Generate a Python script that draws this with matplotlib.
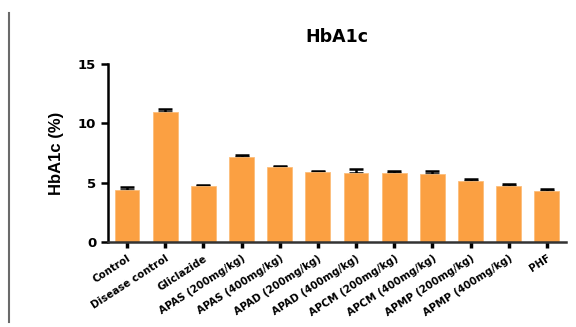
import matplotlib
matplotlib.use("Agg")
import matplotlib.pyplot as plt
from matplotlib.lines import Line2D

groups = ["Control", "Disease control", "Gliclazide", "APAS (200mg/kg)",
          "APAS (400mg/kg)", "APAD (200mg/kg)", "APAD (400mg/kg)",
          "APCM (200mg/kg)", "APCM (400mg/kg)", "APMP (200mg/kg)",
          "APMP (400mg/kg)", "PHF"]
hba1c = [4.38, 10.95, 4.70, 7.20, 6.30, 5.90, 5.85, 5.80, 5.70, 5.17, 4.72, 4.30]
sem = [0.28, 0.25, 0.12, 0.15, 0.12, 0.10, 0.28, 0.15, 0.25, 0.18, 0.20, 0.15]

plt.rcParams["font.family"] = ["DejaVu Sans"]
plt.rcParams["font.weight"] = "bold"

fig = plt.figure(figsize=(5.76, 3.27), dpi=100)
ax = fig.add_axes([0.1875, 0.26, 0.795, 0.544])

x = range(len(groups))
# only the upper half of each error bar shows above the bar
ax.errorbar(x, hba1c, yerr=[[0] * len(sem), sem], fmt="none", ecolor="black",
            elinewidth=1.8, capsize=5, capthick=1.8, zorder=1)
ax.bar(x, hba1c, width=0.65, color="#FBA042", edgecolor="#FDBE7A", linewidth=0.6,
       zorder=2)

ax.set_xlim(-0.5, len(groups) - 0.5)
ax.set_ylim(0, 15)
ax.set_yticks([0, 5, 10, 15])
ax.set_xticks(list(x))
ax.set_xticklabels(groups, rotation=33, ha="right", rotation_mode="anchor",
                   fontsize=7.4, fontweight="bold")
ax.tick_params(axis="y", labelsize=9.5, width=1.8, length=5)
ax.tick_params(axis="x", width=2.5, length=4, pad=4)
for t in ax.get_yticklabels():
    t.set_fontweight("bold")

for side in ["top", "right"]:
    ax.spines[side].set_visible(False)
ax.spines["left"].set_linewidth(1.8)
ax.spines["bottom"].set_linewidth(1.8)
ax.spines["bottom"].set_color("#333333")

ax.set_ylabel("HbA1c (%)", fontsize=12, fontweight="bold", labelpad=10,
              family=["Liberation Sans"])
ax.set_title("HbA1c", fontsize=12.5, fontweight="bold", pad=16)

# page border line on the left
fig.add_artist(Line2D([0.015, 0.015], [0.015, 0.96], transform=fig.transFigure,
                      color="#6a6a6a", linewidth=1.5))

fig.savefig("out.png", dpi=100)
